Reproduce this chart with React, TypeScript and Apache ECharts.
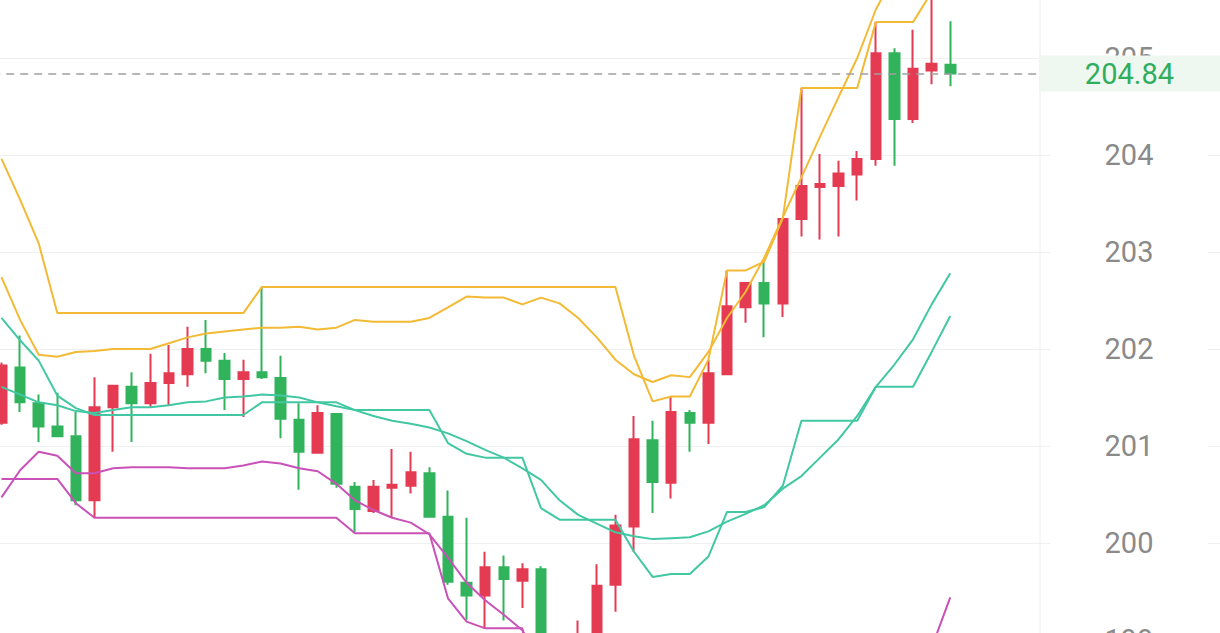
import React, { useEffect, useRef } from "react";
import * as echarts from "echarts";

// [open, close, low, high]
const ohlc: number[][] = [
  [201.24, 201.83, 201.22, 201.86],
  [201.81, 201.45, 201.35, 202.14],
  [201.44, 201.2, 201.04, 201.53],
  [201.2, 201.1, 201.1, 201.55],
  [201.1, 200.44, 200.39, 201.35],
  [200.44, 201.4, 200.26, 201.71],
  [201.4, 201.62, 200.94, 201.63],
  [201.61, 201.44, 201.04, 201.76],
  [201.44, 201.65, 201.4, 201.95],
  [201.65, 201.75, 201.42, 202.04],
  [201.74, 202.0, 201.61, 202.23],
  [202.0, 201.88, 201.75, 202.3],
  [201.88, 201.69, 201.37, 201.96],
  [201.69, 201.76, 201.3, 201.89],
  [201.76, 201.71, 201.69, 202.64],
  [201.7, 201.28, 201.08, 201.93],
  [201.27, 200.94, 200.55, 201.44],
  [200.93, 201.34, 200.92, 201.42],
  [201.33, 200.61, 200.57, 201.34],
  [200.58, 200.35, 200.11, 200.63],
  [200.33, 200.58, 200.31, 200.65],
  [200.57, 200.6, 200.26, 200.97],
  [200.59, 200.73, 200.51, 200.94],
  [200.72, 200.27, 200.26, 200.78],
  [200.27, 199.6, 199.57, 200.54],
  [199.59, 199.46, 199.21, 200.26],
  [199.46, 199.75, 199.12, 199.91],
  [199.75, 199.63, 199.2, 199.87],
  [199.61, 199.73, 199.33, 199.79],
  [199.73, 198.35, 198.08, 199.76],
  [198.35, 198.55, 197.83, 198.8],
  [198.55, 199.0, 198.22, 199.2],
  [199.05, 199.56, 199.0, 199.78],
  [199.57, 200.18, 199.29, 200.29],
  [200.17, 201.07, 199.91, 201.31],
  [201.06, 200.63, 200.31, 201.26],
  [200.62, 201.35, 200.46, 201.51],
  [201.34, 201.24, 200.94, 201.37],
  [201.24, 201.75, 201.02, 201.89],
  [201.74, 202.44, 201.74, 202.81],
  [202.43, 202.68, 202.27, 202.69],
  [202.68, 202.47, 202.12, 202.9],
  [202.47, 203.34, 202.33, 203.35],
  [203.34, 203.68, 203.16, 204.69],
  [203.67, 203.7, 203.13, 204.01],
  [203.68, 203.81, 203.16, 203.94],
  [203.8, 203.96, 203.53, 204.04],
  [203.96, 205.05, 203.89, 205.37],
  [205.05, 204.37, 203.89, 205.1],
  [204.37, 204.89, 204.33, 205.29],
  [204.87, 204.94, 204.73, 205.68],
  [204.93, 204.84, 204.71, 205.38],
];

// channel (step) lines
const stepUpper = [
  203.96, 203.54, 203.09, 202.37, 202.37, 202.37, 202.37, 202.37, 202.37, 202.37,
  202.37, 202.37, 202.37, 202.37, 202.64, 202.64, 202.64, 202.64, 202.64, 202.64,
  202.64, 202.64, 202.64, 202.64, 202.64, 202.64, 202.64, 202.64, 202.64, 202.64,
  202.64, 202.64, 202.64, 202.64, 201.93, 201.46, 201.51, 201.51, 201.89, 202.81,
  202.81, 202.9, 203.35, 204.69, 204.69, 204.69, 204.69, 205.37, 205.37, 205.37,
  205.68, 205.68,
];
const stepMid = [
  202.32, 202.09, 201.88, 201.52, 201.39, 201.32, 201.32, 201.32, 201.32, 201.32,
  201.32, 201.32, 201.32, 201.32, 201.45, 201.45, 201.45, 201.45, 201.45, 201.37,
  201.37, 201.37, 201.37, 201.37, 201.03, 200.92, 200.88, 200.88, 200.88, 200.36,
  200.24, 200.24, 200.24, 200.24, 199.91, 199.65, 199.68, 199.68, 199.86, 200.32,
  200.32, 200.37, 200.59, 201.26, 201.26, 201.26, 201.26, 201.61, 201.61, 201.61,
  201.97, 202.34,
];
const stepLower = [
  200.66, 200.66, 200.66, 200.66, 200.41, 200.26, 200.26, 200.26, 200.26, 200.26,
  200.26, 200.26, 200.26, 200.26, 200.26, 200.26, 200.26, 200.26, 200.26, 200.1,
  200.1, 200.1, 200.1, 200.1, 199.43, 199.19, 199.12, 199.12, 199.12, 198.08,
  197.83, 197.83, 197.83, 197.83, 197.83, 197.83, 197.83, 197.83, 197.83, 197.83,
  197.83, 197.83, 197.83, 197.83, 197.83, 197.83, 197.83, 197.83, 197.83, 197.83,
  198.22, 199.0,
];

// smooth band lines
const bandUpper = [
  202.74, 202.3, 201.94, 201.92, 201.97, 201.98, 202.0, 202.0, 202.0, 202.06,
  202.12, 202.16, 202.18, 202.2, 202.22, 202.22, 202.23, 202.2, 202.22, 202.3,
  202.28, 202.28, 202.28, 202.32, 202.43, 202.54, 202.53, 202.53, 202.46, 202.53,
  202.47, 202.32, 202.12, 201.89, 201.74, 201.66, 201.73, 201.71, 201.97, 202.32,
  202.59, 202.94, 203.36, 203.77, 204.19, 204.6, 205.0, 205.5, 205.86, 206.01,
  206.06, 206.12,
];
const bandMid = [
  201.61, 201.53, 201.45, 201.42, 201.36, 201.34, 201.37, 201.4, 201.4, 201.42,
  201.45, 201.46, 201.5, 201.51, 201.53, 201.52, 201.5, 201.45, 201.41, 201.37,
  201.31, 201.26, 201.23, 201.19, 201.13, 201.05, 200.96, 200.88, 200.77, 200.65,
  200.44, 200.29, 200.2, 200.11, 200.07, 200.04, 200.05, 200.06, 200.12, 200.22,
  200.3, 200.39, 200.56, 200.69, 200.88, 201.07, 201.31, 201.61, 201.84, 202.1,
  202.46, 202.78,
];
const bandLower = [
  200.47, 200.75, 200.94, 200.9, 200.72, 200.72, 200.77, 200.78, 200.78, 200.78,
  200.77, 200.77, 200.77, 200.8, 200.84, 200.82, 200.77, 200.74, 200.61, 200.44,
  200.34, 200.26, 200.21, 200.09, 199.85, 199.59, 199.41, 199.26, 199.1, 198.77,
  198.41, 198.26, 198.27, 198.34, 198.4, 198.42, 198.37, 198.41, 198.28, 198.11,
  198.01, 197.85, 197.75, 197.61, 197.57, 197.55, 197.62, 197.72, 197.81, 198.2,
  198.92, 199.44,
];

const emptySlots = 14;
const categories = [
  ...ohlc.map((_, i) => String(i + 1)),
  ...Array.from({ length: emptySlots }, () => ""),
];

const UP = "#E43B52";
const DOWN = "#31B35C";
const GOLD = "#F2BA35";
const TEAL = "#42C7A3";
const MAGENTA = "#C951B8";

export default function App() {
  const ref = useRef<HTMLDivElement>(null);
  useEffect(() => {
    if (!ref.current) return;
    const chart = echarts.init(ref.current, undefined, { renderer: "svg" });
    const lastClose = ohlc[ohlc.length - 1][1];
    const line = (name: string, data: number[], color: string) => ({
      name,
      type: "line",
      data,
      showSymbol: false,
      symbol: "none",
      smooth: false,
      lineStyle: { color, width: 2 },
      itemStyle: { color },
      z: 3,
    });
    chart.setOption({
      animation: false,
      backgroundColor: "#ffffff",
      grid: {
        left: -7.81,
        right: 0,
        top: -39,
        bottom: -7,
        containLabel: false,
        outerBoundsMode: "none",
      },
      xAxis: {
        type: "category",
        data: categories,
        boundaryGap: true,
        axisLine: { show: false },
        axisTick: { show: false },
        axisLabel: { show: false },
        splitLine: { show: false },
      },
      yAxis: {
        type: "value",
        position: "right",
        min: 199,
        max: 206,
        interval: 1,
        axisLine: { show: false },
        axisTick: { show: false },
        splitLine: { show: true, lineStyle: { color: "#f0f0f0", width: 1 } },
        axisLabel: {
          inside: true,
          margin: 91,
          align: "center",
          verticalAlign: "middle",
          color: "#8a8a8a",
          fontSize: 29,
          fontFamily: "Roboto",
          backgroundColor: "#ffffff",
          padding: [4, 54],
          showMinLabel: true,
          showMaxLabel: false,
        },
      },
      series: [
        {
          name: "K",
          type: "candlestick",
          data: ohlc,
          barWidth: 10,
          itemStyle: {
            color: UP,
            color0: DOWN,
            borderColor: UP,
            borderColor0: DOWN,
            borderWidth: 2,
          },
          z: 2,
          markLine: {
            silent: true,
            symbol: ["none", "none"],
            animation: false,
            lineStyle: { color: "#a0a0a0", type: [8, 6], width: 1.5 },
            label: {
              position: "insideEndTop",
              distance: 0,
              align: "right",
              verticalAlign: "middle",
              formatter: (p: any) => Number(p.value).toFixed(2),
              color: "#2FAE5E",
              fontSize: 29,
              fontFamily: "Roboto",
              backgroundColor: "#EEF8F1",
              padding: [3, 46, 3, 46],
              lineHeight: 30,
            },
            data: [{ yAxis: lastClose }],
          },
        },
        line("上轨", stepUpper, GOLD),
        line("均线上", bandUpper, GOLD),
        line("中轨", stepMid, TEAL),
        line("均线中", bandMid, TEAL),
        line("下轨", stepLower, MAGENTA),
        line("均线下", bandLower, MAGENTA),
      ],
      graphic: [
        {
          type: "line",
          shape: { x1: 1040, y1: 0, x2: 1040, y2: 633 },
          style: { stroke: "#eeeeee", lineWidth: 1 },
          silent: true,
          z: 1,
        },
      ],
    });
    return () => chart.dispose();
  }, []);
  return (
    <div
      ref={ref}
      style={{ position: "fixed", left: 0, top: 0, width: 1220, height: 633, background: "#fff" }}
    />
  );
}
